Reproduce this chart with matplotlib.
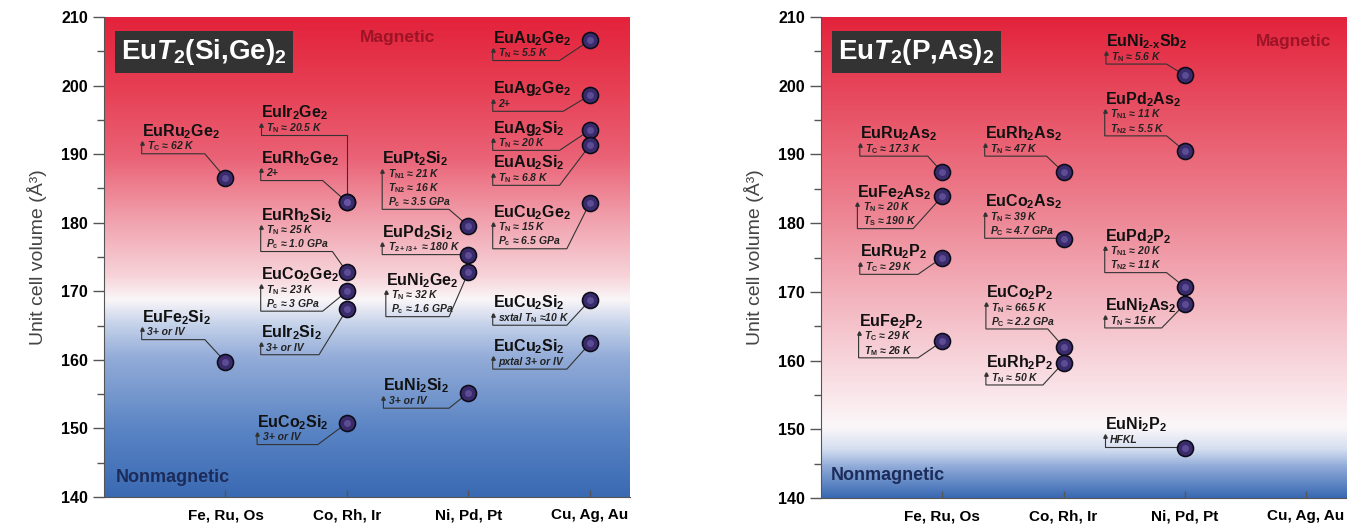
import numpy as np
import matplotlib
matplotlib.use("Agg")
import matplotlib.pyplot as plt
from matplotlib.colors import LinearSegmentedColormap
from matplotlib.ticker import MultipleLocator

plt.rcParams['font.family'] = ['Liberation Sans', 'DejaVu Sans']
plt.rcParams['mathtext.fontset'] = 'custom'
plt.rcParams['mathtext.rm'] = 'Liberation Sans:bold'
plt.rcParams['mathtext.it'] = 'Liberation Sans:bold:italic'
plt.rcParams['mathtext.bf'] = 'Liberation Sans:bold'

groups = ['Fe, Ru, Os', 'Co, Rh, Ir', 'Ni, Pd, Pt', 'Cu, Ag, Au']

# ---- EuT2(Si,Ge)2 ----
sige_names = [r'EuRu$_2$Ge$_2$', r'EuFe$_2$Si$_2$', r'EuIr$_2$Ge$_2$', r'EuRh$_2$Ge$_2$',
              r'EuRh$_2$Si$_2$', r'EuCo$_2$Ge$_2$', r'EuIr$_2$Si$_2$', r'EuCo$_2$Si$_2$',
              r'EuPt$_2$Si$_2$', r'EuPd$_2$Si$_2$', r'EuNi$_2$Ge$_2$', r'EuNi$_2$Si$_2$',
              r'EuAu$_2$Ge$_2$', r'EuAg$_2$Ge$_2$', r'EuAg$_2$Si$_2$', r'EuAu$_2$Si$_2$',
              r'EuCu$_2$Ge$_2$', r'EuCu$_2$Si$_2$', r'EuCu$_2$Si$_2$']
sige_group = [1, 1, 2, 2, 2, 2, 2, 2, 3, 3, 3, 3, 4, 4, 4, 4, 4, 4, 4]
sige_volume = [186.5, 159.7, 183.0, 183.0, 172.8, 170.0, 167.4, 150.8,
               179.5, 175.3, 172.8, 155.2, 206.6, 198.6, 193.5, 191.3,
               182.9, 168.7, 162.4]
sige_info = [
    [r'$T_\mathrm{C}$ ≈ 62 K'],
    ['3+ or IV'],
    [r'$T_\mathrm{N}$ ≈ 20.5 K'],
    ['2+'],
    [r'$T_\mathrm{N}$ ≈ 25 K', r'$P_\mathrm{c}$ ≈ 1.0 GPa'],
    [r'$T_\mathrm{N}$ ≈ 23 K', r'$P_\mathrm{c}$ ≈ 3 GPa'],
    ['3+ or IV'],
    ['3+ or IV'],
    [r'$T_\mathrm{N1}$ ≈ 21 K', r'$T_\mathrm{N2}$ ≈ 16 K', r'$P_\mathrm{c}$ ≈ 3.5 GPa'],
    [r'$T_\mathrm{2+/3+}$ ≈ 180 K'],
    [r'$T_\mathrm{N}$ ≈ 32 K', r'$P_\mathrm{c}$ ≈ 1.6 GPa'],
    ['3+ or IV'],
    [r'$T_\mathrm{N}$ ≈ 5.5 K'],
    ['2+'],
    [r'$T_\mathrm{N}$ ≈ 20 K'],
    [r'$T_\mathrm{N}$ ≈ 6.8 K'],
    [r'$T_\mathrm{N}$ ≈ 15 K', r'$P_\mathrm{c}$ ≈ 6.5 GPa'],
    [r'sxtal $T_\mathrm{N}$ ≈10 K'],
    ['pxtal 3+ or IV'],
]

# ---- EuT2(P,As)2 ----
pas_names = [r'EuRu$_2$As$_2$', r'EuFe$_2$As$_2$', r'EuRu$_2$P$_2$', r'EuFe$_2$P$_2$',
             r'EuRh$_2$As$_2$', r'EuCo$_2$As$_2$', r'EuCo$_2$P$_2$', r'EuRh$_2$P$_2$',
             r'EuNi$_\mathrm{2\text{-}x}$Sb$_2$', r'EuPd$_2$As$_2$', r'EuPd$_2$P$_2$',
             r'EuNi$_2$As$_2$', r'EuNi$_2$P$_2$']
pas_group = [1, 1, 1, 1, 2, 2, 2, 2, 3, 3, 3, 3, 3]
pas_volume = [187.4, 183.9, 175.0, 162.8, 187.4, 177.7, 162.0, 159.7,
              201.5, 190.5, 170.7, 168.2, 147.3]
pas_info = [
    [r'$T_\mathrm{C}$ ≈ 17.3 K'],
    [r'$T_\mathrm{N}$ ≈ 20 K', r'$T_\mathrm{S}$ ≈ 190 K'],
    [r'$T_\mathrm{C}$ ≈ 29 K'],
    [r'$T_\mathrm{C}$ ≈ 29 K', r'$T_\mathrm{M}$ ≈ 26 K'],
    [r'$T_\mathrm{N}$ ≈ 47 K'],
    [r'$T_\mathrm{N}$ ≈ 39 K', r'$P_\mathrm{C}$ ≈ 4.7 GPa'],
    [r'$T_\mathrm{N}$ ≈ 66.5 K', r'$P_\mathrm{C}$ ≈ 2.2 GPa'],
    [r'$T_\mathrm{N}$ ≈ 50 K'],
    [r'$T_\mathrm{N}$ ≈ 5.6 K'],
    [r'$T_\mathrm{N1}$ ≈ 11 K', r'$T_\mathrm{N2}$ ≈ 5.5 K'],
    [r'$T_\mathrm{N1}$ ≈ 20 K', r'$T_\mathrm{N2}$ ≈ 11 K'],
    [r'$T_\mathrm{N}$ ≈ 15 K'],
    ['HFKL'],
]

# label layout: (label left x, label centre y, knee x of leader line)
sige_layout = [(0.31, 193.3, 0.83), (0.31, 166.2, 0.83), (1.29, 196.0, 2.0),
               (1.29, 189.4, 1.80), (1.29, 181.1, 1.88), (1.29, 172.4, 1.80),
               (1.29, 164.0, 1.77), (1.26, 150.9, 1.76), (2.29, 189.3, 2.84),
               (2.29, 178.6, 2.95), (2.32, 171.6, 2.84), (2.30, 156.2, 2.84),
               (3.20, 206.9, 3.75), (3.20, 199.5, 3.78), (3.20, 193.8, 3.75),
               (3.20, 188.7, 3.75), (3.20, 181.5, 3.81), (3.20, 168.3, 3.81),
               (3.20, 161.9, 3.81)]
pas_layout = [(0.32, 193.0, 0.88), (0.30, 184.5, 0.76), (0.32, 175.8, 0.80),
              (0.31, 165.7, 0.80), (1.35, 193.0, 1.86), (1.35, 183.1, 1.93),
              (1.36, 169.9, 1.87), (1.36, 159.7, 1.83), (2.35, 206.4, 2.85),
              (2.34, 198.0, 2.85), (2.34, 178.1, 2.85), (2.34, 168.0, 2.81),
              (2.34, 150.7, 3.0)]

sige_bg = [(0.0, '#3a6ab3'), (0.14, '#5a84c4'), (0.29, '#93acd8'), (0.36, '#c6d3ea'),
           (0.41, '#faf6f8'), (0.46, '#f7d3d9'), (0.57, '#f1a4b0'), (0.71, '#ea6175'),
           (0.86, '#e63d52'), (1.0, '#e3223b')]
pas_bg = [(0.0, '#3a6ab3'), (0.06, '#8aa6d6'), (0.10, '#d5def0'), (0.145, '#fbf7f9'),
          (0.24, '#f9e0e5'), (0.41, '#f3b5bf'), (0.62, '#ec7d8c'), (0.83, '#e74b5f'),
          (1.0, '#e3223b')]

XMAX = 4.33
YMIN, YMAX = 140, 210


def draw_panel(ax, names, grp, vol, info, layout, bg, title):
    cmap = LinearSegmentedColormap.from_list('bg', bg)
    ax.imshow(np.linspace(0, 1, 512).reshape(-1, 1), extent=[0, XMAX, YMIN, YMAX],
              origin='lower', aspect='auto', cmap=cmap, zorder=0)

    for name, g, v, lines, (lx, ly, kx) in zip(names, grp, vol, info, layout):
        ax.text(lx, ly, name, fontsize=11.5, fontweight='bold', va='center',
                ha='left', color='#111111', zorder=3)
        ys = [ly - 2.2 - 2.05 * i for i in range(len(lines))]
        for t, y in zip(lines, ys):
            ax.text(lx + 0.045, y, t, fontsize=7.5, fontweight='bold',
                    fontstyle='italic', va='center', ha='left', color='#222222', zorder=3)
        ybot = ys[-1] - 1.05
        ax.plot([lx, lx, kx, g], [ys[0] + 0.5, ybot, ybot, v], color='#333333',
                lw=0.8, zorder=2, solid_joinstyle='miter')
        ax.plot(lx, ys[0] + 0.5, marker='^', ms=2.5, color='#333333', zorder=2)
        ax.plot(g, v, 'o', ms=11.5, color='#3a2c6c', mec='#0d0d1a', mew=1.2, zorder=4)
        ax.plot(g, v, 'o', ms=5, color='#6a5aa6', mew=0, alpha=0.7, zorder=5)

    ax.set_xlim(0, XMAX)
    ax.set_ylim(YMIN, YMAX)
    ax.set_xticks([1, 2, 3, 4])
    ax.set_xticklabels(groups, fontsize=11, fontweight='bold')
    ax.tick_params(axis='x', direction='in', length=5, width=1, color='#555555', pad=8)
    ax.yaxis.set_major_locator(MultipleLocator(10))
    ax.yaxis.set_minor_locator(MultipleLocator(5))
    ax.tick_params(axis='y', which='major', direction='out', length=8, width=1,
                   color='#555555', labelsize=11.5)
    ax.tick_params(axis='y', which='minor', direction='out', length=5, width=1,
                   color='#555555')
    for lab in ax.get_yticklabels():
        lab.set_fontweight('bold')
    ax.spines['top'].set_visible(False)
    ax.spines['right'].set_visible(False)
    ax.spines['left'].set_color('#555555')
    ax.spines['bottom'].set_color('#555555')
    ax.set_ylabel('Unit cell volume (Å³)', fontsize=14, color='#444444', labelpad=10)

    ax.text(0.033, 0.927, title, transform=ax.transAxes, fontsize=20, color='white',
            fontweight='bold', va='center', ha='left', zorder=6,
            bbox=dict(boxstyle='square,pad=0.22', fc='#333333', ec='none'))


fig = plt.figure(figsize=(13.49, 5.26), dpi=100)
ax1 = fig.add_axes([0.0771, 0.0551, 0.3899, 0.9126])
ax2 = fig.add_axes([0.6086, 0.0532, 0.3892, 0.9145])

draw_panel(ax1, sige_names, sige_group, sige_volume, sige_info, sige_layout,
           sige_bg, r'Eu$T_2$(Si,Ge)$_2$')
draw_panel(ax2, pas_names, pas_group, pas_volume, pas_info, pas_layout,
           pas_bg, r'Eu$T_2$(P,As)$_2$')

ax1.text(2.42, 207.0, 'Magnetic', fontsize=12.5, fontweight='bold', color='#9c1426',
         ha='center', va='center', zorder=3)
ax1.text(0.1, 142.8, 'Nonmagnetic', fontsize=13, fontweight='bold', color='#1c2c5a',
         ha='left', va='center', zorder=3)
ax2.text(3.9, 206.4, 'Magnetic', fontsize=12.5, fontweight='bold', color='#9c1426',
         ha='center', va='center', zorder=3)
ax2.text(0.08, 143.3, 'Nonmagnetic', fontsize=13, fontweight='bold', color='#1c2c5a',
         ha='left', va='center', zorder=3)

fig.savefig('out.png', dpi=100)
